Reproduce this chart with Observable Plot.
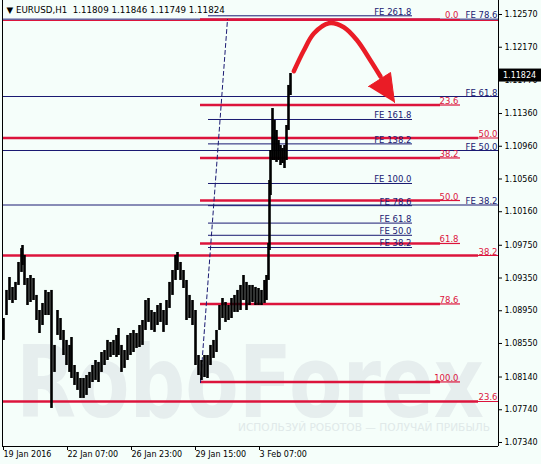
<!DOCTYPE html>
<html><head><meta charset="utf-8">
<script src="https://cdn.jsdelivr.net/npm/d3@7"></script>
<script src="https://cdn.jsdelivr.net/npm/@observablehq/plot@0.6"></script>
<style>
html,body{margin:0;padding:0;background:#f5fefa;}
#chart{width:541px;height:464px;overflow:hidden;}
</style></head><body><div id="chart"></div>
<script>
// ---- data ----
const titleText = "▼ EURUSD,H1\u00a0\u00a01.11809 1.11846 1.11749 1.11824";
const lastPrice = 1.11824;

// hourly bars, sampled: bar index, high, low
const bars  = [0,3,6,9,12,15,18,19,21,24,27,30,33,36,39,42,45,48,51,54,57,60,63,66,68,71,74,77,80,83,86,89,92,95,98,101,104,107,110,113,115,118,121,124,127,130,133,136,139,142,145,148,151,154,157,160,163,166,169,172,174,177,180,183,186,189,192,195,198,201,204,207,210,213,216,219,222,225,228,231,234,237,240,243,246,249,252,255,258,261,263,265,266,267,269,271,273,275,277,279,281,283,285,287];
const highs = [1.08855,1.09198,1.09356,1.09234,1.09296,1.09540,1.09711,1.09747,1.09625,1.09344,1.09381,1.09344,1.09137,1.08953,1.09039,1.09198,1.09173,1.09198,1.08526,1.08953,1.08855,1.08709,1.08587,1.08526,1.08623,1.08281,1.08196,1.08122,1.08122,1.08159,1.08196,1.08281,1.08342,1.08318,1.08440,1.08464,1.08587,1.08562,1.08587,1.08648,1.08733,1.08526,1.08464,1.08648,1.08672,1.08709,1.08672,1.08770,1.08831,1.09075,1.09100,1.08953,1.08929,1.09014,1.09039,1.08953,1.09075,1.09296,1.09442,1.09625,1.09662,1.09540,1.09442,1.09320,1.09137,1.09075,1.08953,1.08403,1.08342,1.08403,1.08403,1.08526,1.08587,1.08709,1.09014,1.09100,1.09051,1.09014,1.09100,1.09137,1.09198,1.09259,1.09381,1.09296,1.09259,1.09259,1.09235,1.09222,1.09198,1.09320,1.09381,1.09772,1.10542,1.10908,1.11421,1.11275,1.11153,1.11030,1.10969,1.10933,1.10969,1.11214,1.11703,1.11849];
const lows  = [1.08587,1.08892,1.09075,1.09039,1.09075,1.09259,1.09418,1.09503,1.09259,1.09014,1.09051,1.09075,1.08831,1.08672,1.08770,1.08892,1.08892,1.07756,1.08196,1.08648,1.08587,1.08403,1.08281,1.08196,1.08122,1.08037,1.07976,1.07878,1.07878,1.07915,1.08000,1.08073,1.08098,1.08073,1.08196,1.08281,1.08342,1.08379,1.08403,1.08379,1.08403,1.08196,1.08245,1.08342,1.08403,1.08440,1.08489,1.08501,1.08526,1.08709,1.08807,1.08709,1.08685,1.08770,1.08807,1.08685,1.08770,1.08978,1.09137,1.09320,1.09442,1.09320,1.09222,1.08831,1.08855,1.08770,1.08281,1.08159,1.08098,1.08134,1.08122,1.08281,1.08367,1.08440,1.08709,1.08855,1.08807,1.08831,1.08855,1.08929,1.08929,1.08953,1.09075,1.08953,1.09014,1.09051,1.09014,1.09014,1.09014,1.09039,1.09075,1.09320,1.09686,1.10358,1.10786,1.10786,1.10762,1.10786,1.10725,1.10749,1.10688,1.10786,1.11153,1.11580];

// axis ticks
const yTicks = [1.12570,1.12170,1.11770,1.11360,1.10960,1.10560,1.10160,1.09750,1.09350,1.08950,1.08550,1.08140,1.07740,1.07340];
const xTickBars = [0,64,128,192,256];
const xTickLabels = ["19 Jan 2016","22 Jan 07:00","26 Jan 23:00","29 Jan 15:00","3 Feb 07:00"];

// Fibonacci retracement 1 (short, red)
const r1Levels = ["0.0","23.6","38.2","50.0","61.8","78.6","100.0"];
const r1Prices = [1.12509,1.11464,1.10817,1.10297,1.09772,1.09033,1.08080];
const r1Span = [197, 437, 457];
// Fibonacci retracement 2 (full width, red)
const r2Levels = ["61.8","50.0","38.2","23.6"];
const r2Prices = [1.12497,1.11061,1.09625,1.07841];
const r2Span = [-1, 475, 495];
// Fibonacci expansion 1 (navy)
const fe1Levels = ["261.8","161.8","138.2","100.0","78.6","61.8","50.0","38.2"];
const fe1Prices = [1.12554,1.11287,1.10989,1.10505,1.10234,1.10021,1.09872,1.09723];
const fe1Span = [205, 409];
// Fibonacci expansion 2 (navy, full width)
const fe2Levels = ["78.6","61.8","50.0","38.2"];
const fe2Prices = [1.12513,1.11568,1.10908,1.10242];
const fe2Span = [-1, 495];
// dashed base line
const trendBars = [197, 224];
const trendPrices = [1.08073, 1.12509];
// forecast arrow
const arrowBars = [290.3,300.3,310.3,325.3,340.3,353.7,367,377];
const arrowPrices = [1.11877,1.12130,1.12338,1.12464,1.12415,1.12252,1.12008,1.11812];
const headBars = [365, 387, 391];
const headPrices = [1.11690, 1.11861, 1.11495];

// ---- build ----
const RED = "#dc143c", NAVY = "#1a1a72", ARROW = "#ea1c26", BG = "#f5fefa";
const yMin = 1.072911, yMax = 1.127411;

const candles = bars.map((b,i)=>({bar:b, high:highs[i], low:lows[i]}));
const r1 = r1Levels.map((l,i)=>({label:l, price:r1Prices[i]}));
const r2 = r2Levels.map((l,i)=>({label:l, price:r2Prices[i]}));
const fe1 = fe1Levels.map((l,i)=>({label:"FE " + l, price:fe1Prices[i]}));
const fe2 = fe2Levels.map((l,i)=>({label:"FE " + l, price:fe2Prices[i]}));
const trend = trendBars.map((b,i)=>({bar:b, price:trendPrices[i]}));
const arrow = arrowBars.map((b,i)=>({bar:b, price:arrowPrices[i]}));
const head = headBars.map((b,i)=>({bar:b, price:headPrices[i]}));

const font = "DejaVu Sans";
const plot = Plot.plot({
  width: 541, height: 464,
  marginLeft: 2, marginRight: 43, marginTop: 0, marginBottom: 18,
  x: {domain: [-1, 495], axis: null},
  y: {domain: [yMin, yMax], axis: null},
  style: {background: BG, fontFamily: font, fontSize: "8.5px", color: "black", overflow: "visible"},
  marks: [
    Plot.ruleY(fe2, {y: "price", x1: fe2Span[0], x2: fe2Span[1], stroke: NAVY, strokeWidth: 1}),
    Plot.ruleY(fe1, {y: "price", x1: fe1Span[0], x2: fe1Span[1], stroke: NAVY, strokeWidth: 1}),
    Plot.ruleY(r2.filter(d=>d.label!=="61.8"), {y: "price", x1: r2Span[0], x2: r2Span[1], stroke: RED, strokeWidth: 2.6}),
    Plot.ruleY(r2, {y: "price", x1: r2Span[0], x2: r2Span[2], stroke: RED, strokeWidth: 1.2}),
    Plot.ruleY(r1, {y: "price", x1: r1Span[0], x2: r1Span[1], stroke: RED, strokeWidth: 2.6}),
    Plot.ruleY(r1, {y: "price", x1: r1Span[1], x2: r1Span[2], stroke: RED, strokeWidth: 1.2}),
    Plot.line(trend, {x: "bar", y: "price", stroke: NAVY, strokeWidth: 1, strokeDasharray: "4,3"}),
    // price bars (high-low of each sampled group of hourly bars)
    Plot.ruleX(candles, {x: "bar", y1: "low", y2: "high", stroke: "black", strokeWidth: 2.6}),
    Plot.text(fe1, {x: fe1Span[1]-1, y: "price", text: "label", textAnchor: "end", lineAnchor: "bottom", dy: -1, fill: NAVY}),
    Plot.text(fe2, {x: fe2Span[1]-1, y: "price", text: "label", textAnchor: "end", lineAnchor: "bottom", dy: -1, fill: NAVY}),
    Plot.text(r1, {x: r1Span[2]-2, y: "price", text: "label", textAnchor: "end", lineAnchor: "bottom", dy: -1, fill: RED}),
    Plot.text(r2.filter(d=>d.label!=="61.8"), {x: r2Span[2]-1, y: "price", text: "label", textAnchor: "end", lineAnchor: "bottom", dy: -1, fill: RED}),
    Plot.line(arrow, {x: "bar", y: "price", stroke: ARROW, strokeWidth: 4.5, curve: "catmull-rom", strokeLinecap: "round"}),
    Plot.line(head, {x: "bar", y: "price", fill: ARROW, stroke: ARROW, strokeWidth: 1}),
    Plot.ruleX([-1], {stroke: "black", strokeWidth: 1}),
    Plot.ruleX([495], {stroke: "black", strokeWidth: 1}),
    Plot.ruleY([yMin], {stroke: "black", strokeWidth: 1}),
    Plot.axisY({anchor: "right", ticks: yTicks, tickFormat: d => d.toFixed(5), tickSize: 3, tickPadding: 3, fontSize: 8, stroke: "black", label: null}),
    Plot.axisX({anchor: "bottom", ticks: xTickBars, tickFormat: d => xTickLabels[xTickBars.indexOf(d)], tickSize: 4, tickPadding: 1, textAnchor: "start", fontSize: 8, stroke: "black", label: null}),
    Plot.text([titleText], {frameAnchor: "top-left", text: d => d, dx: 4, dy: 10, lineAnchor: "middle", textAnchor: "start", fill: "black", fontSize: 8.7})
  ]
});

document.getElementById("chart").appendChild(plot);
const svg = d3.select(plot);
const ys = plot.scale("y");
// watermark behind everything
const wm = svg.insert("g", ":first-child").attr("pointer-events", "none").attr("text-anchor", "start");
svg.insert("rect", ":first-child").attr("x",0).attr("y",0).attr("width",541).attr("height",464).attr("fill",BG);
wm.append("text").attr("x", 16).attr("y", 417).attr("font-family", "DejaVu Sans").attr("font-weight", "bold")
  .attr("font-size", 100).attr("fill", "#e6eeee").attr("textLength", 468).attr("lengthAdjust", "spacingAndGlyphs").text("RoboForex");
wm.append("text").attr("x", 238).attr("y", 431).attr("font-family", "DejaVu Sans")
  .attr("font-size", 10.5).attr("fill", "#e0e9e9").attr("textLength", 252).attr("lengthAdjust", "spacingAndGlyphs").text("ИСПОЛЬЗУЙ РОБОТОВ — ПОЛУЧАЙ ПРИБЫЛЬ");
// current price box
const yp = ys.apply(lastPrice);
svg.append("rect").attr("x", 498).attr("y", yp - 6.5).attr("width", 43).attr("height", 13).attr("fill", "black");
svg.append("text").attr("x", 503).attr("y", yp).attr("dy", "0.35em").attr("fill", "white").attr("text-anchor", "start")
  .attr("font-family", font).attr("font-size", 8).text(lastPrice.toFixed(5));
</script></body></html>
